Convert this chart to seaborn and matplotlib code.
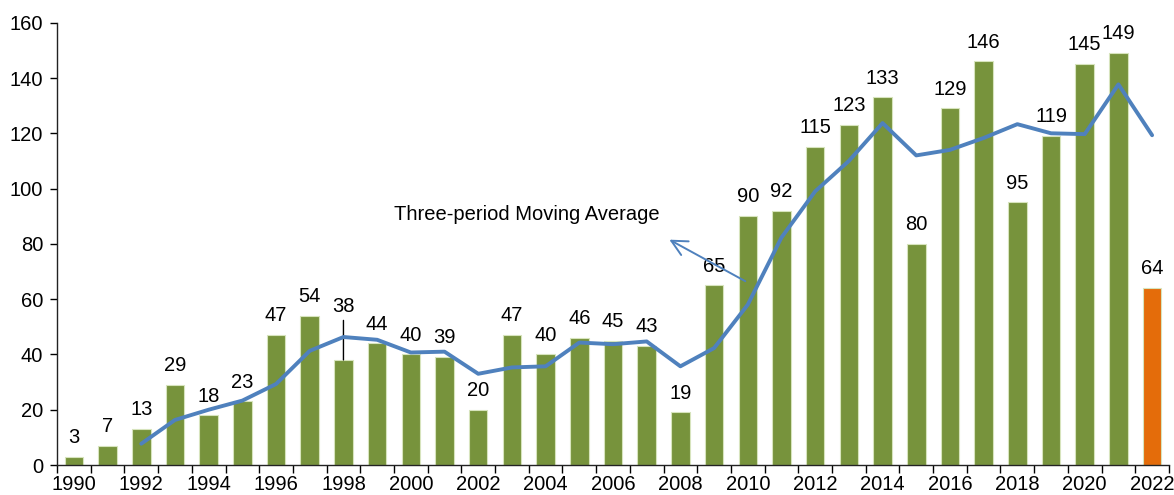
import numpy as np
import matplotlib.pyplot as plt
import seaborn as sns
import pandas as pd

years = [str(y) for y in range(1990, 2023)]
counts = [3, 7, 13, 29, 18, 23, 47, 54, 38, 44, 40, 39, 20, 47, 40, 46, 45, 43,
          19, 65, 90, 92, 115, 123, 133, 80, 129, 146, 95, 119, 145, 149, 64]
# three-period moving average, starts at 1992
moving_avg = [np.nan, np.nan, 7.7, 16.3, 20.0, 23.3, 29.3, 41.3, 46.3, 45.3, 40.7,
              41.0, 33.0, 35.3, 35.7, 44.3, 43.7, 44.7, 35.7, 42.3, 58.0, 82.3,
              99.0, 110.0, 123.7, 112.0, 114.0, 118.3, 123.3, 120.0, 119.7, 137.7, 119.3]
green = "#77933C"
orange = "#E46C0A"
blue = "#4F81BD"
bar_colors = [green] * (len(years) - 1) + [orange]

df = pd.DataFrame({"year": years, "count": counts, "ma": moving_avg})
df["pos"] = np.arange(len(df))

sns.set_style("white")
plt.rcParams['font.family'] = ['Liberation Sans', 'DejaVu Sans']
plt.rcParams['text.color'] = 'black'
plt.rcParams['xtick.color'] = 'black'
plt.rcParams['ytick.color'] = 'black'

fs = 14.5

fig = plt.figure(figsize=(11.74, 4.95), dpi=100)
ax = fig.add_axes([0.0486, 0.0606, 0.9471, 0.8935])

sns.barplot(data=df, x="year", y="count", hue="year", palette=bar_colors,
            width=0.55, legend=False, ax=ax, edgecolor="#D7E4BD", linewidth=0.8,
            saturation=1)
sns.lineplot(x=df["pos"], y=df["ma"], color=blue, lw=2.8, ax=ax, zorder=5)

for i, v in enumerate(counts):
    if years[i] == "1998":
        ax.annotate(str(v), xy=(i, v), xytext=(i, 54), ha="center", va="bottom",
                    fontsize=fs, arrowprops=dict(arrowstyle="-", color="black",
                                                 lw=1, shrinkA=1, shrinkB=0))
    else:
        ax.annotate(str(v), xy=(i, v), xytext=(0, 7), textcoords="offset points",
                    ha="center", va="bottom", fontsize=fs)

ax.annotate("", xy=(17.6, 82), xytext=(20.0, 66),
            arrowprops=dict(arrowstyle="->", color=blue, lw=1.4,
                            mutation_scale=28))
ax.text(13.45, 90.8, "Three-period Moving Average", ha="center", va="center",
        fontsize=fs)

ax.set_xlim(-0.5, len(years) - 0.5)
ax.set_ylim(0, 160)
ax.set_yticks(range(0, 161, 20))
even = [i for i, y in enumerate(years) if int(y) % 2 == 0]
ax.set_xticks(even)
ax.set_xticklabels([years[i] for i in even])
ax.set_xticks(np.arange(-0.5, len(years)), minor=True)
ax.tick_params(axis="x", which="major", length=0, labelsize=fs, pad=7)
ax.tick_params(axis="x", which="minor", length=6, width=1, color="black",
               direction="out", bottom=True)
ax.tick_params(axis="y", length=5, width=1, color="black", direction="out",
               left=True, labelsize=fs, pad=5)
ax.set_xlabel("")
ax.set_ylabel("")
sns.despine(ax=ax)
for s in ["left", "bottom"]:
    ax.spines[s].set_color("#222222")
    ax.spines[s].set_linewidth(1)

fig.savefig("out.png", dpi=100)
